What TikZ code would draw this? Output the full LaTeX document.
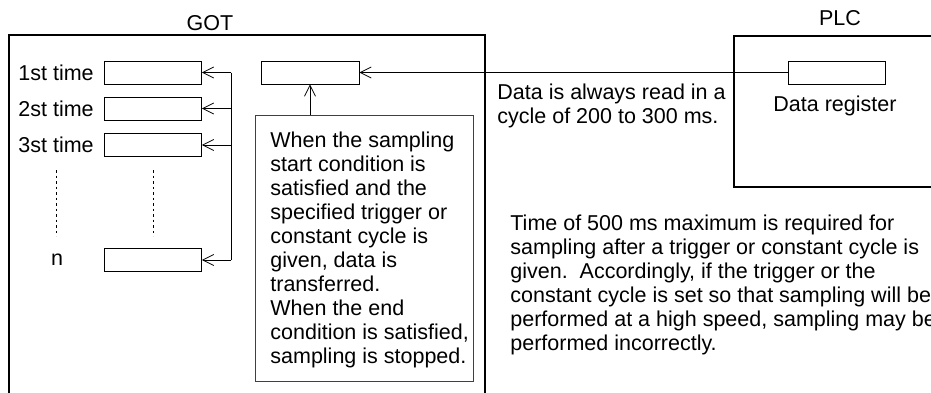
\documentclass[tikz,border=0pt]{standalone}
\usepackage{fontspec}
\setmainfont{Liberation Sans}
\usetikzlibrary{arrows.meta}

\begin{document}
\begin{tikzpicture}[x=1pt, y=-1pt, >={Straight Barb[length=11pt,width=11pt]}, line width=0.8pt,
    reg/.style={draw, minimum width=97pt, minimum height=23pt, inner sep=0pt},
    txt/.style={font=\fontsize{21.5}{24}\selectfont, inner sep=0pt, align=left}]
    % ==== FRAME ====
    \clip (0,0) rectangle (931,392);

    % ==== GOT ====
    \draw[line width=1.1pt] (9,400) -- (9,35) -- (485,35) -- (485,400);
    \node[txt] (got) at (210,23) {GOT};

    % ==== SAMPLED DATA ====
    \node[reg] (r1) at (153,72.5) {};
    \node[reg] (r2) at (153,108.5) {};
    \node[reg] (r3) at (153,145) {};
    \node[reg] (rn) at (153,260) {};
    \node[txt, anchor=west] (l1) at (18,72.5) {1st time};
    \node[txt, anchor=west] (l2) at (18,108.5) {2st time};
    \node[txt, anchor=west] (l3) at (18,145) {3st time};
    \node[txt] (ln) at (57,260) {n};
    \draw[dash pattern=on 2.5pt off 3pt] (56,170) -- (56,236);
    \draw[dash pattern=on 2.5pt off 3pt] (153,170) -- (153,236);

    % ==== TRANSFER ====
    \coordinate (bt) at (231,72.5);
    \coordinate (bb) at (231,260);
    \draw (bt) -- (bb);
    \foreach \r in {r1,r2,r3,rn}
        \draw[->] (\r.east -| bt) -- (\r.east);

    % ==== BUFFER ====
    \node[reg, minimum width=98pt] (buf) at (310,72.5) {};
    \node[draw=black!75, minimum width=218pt, minimum height=266pt, inner sep=0pt, anchor=north west] (note) at (255,115) {};
    \node[txt, anchor=north west] (notetxt) at (270,132) {When the sampling\\start condition is\\satisfied and the\\specified trigger or\\constant cycle is\\given, data is\\transferred.\\When the end\\condition is satisfied,\\sampling is stopped.};
    \draw[->] (buf.south |- note.north) -- (buf.south);

    % ==== PLC ====
    \draw[line width=1.1pt] (940,36) -- (734,36) -- (734,187) -- (940,187);
    \node[txt] (plc) at (840,18) {PLC};
    \node[reg] (dreg) at (836.5,72.5) {};
    \node[txt] (dlbl) at (835,106) {Data register};
    \draw[->] (dreg.west) -- (buf.east);

    % ==== NOTES ====
    \node[txt, anchor=north west] (cycle) at (497,84) {Data is always read in a\\cycle of 200 to 300 ms.};
    \node[txt, anchor=north west] (warn) at (510,215) {Time of 500 ms maximum is required for\\sampling after a trigger or constant cycle is\\given.\ \ Accordingly, if the trigger or the\\constant cycle is set so that sampling will be\\performed at a high speed, sampling may be\\performed incorrectly.};
\end{tikzpicture}
\end{document}
